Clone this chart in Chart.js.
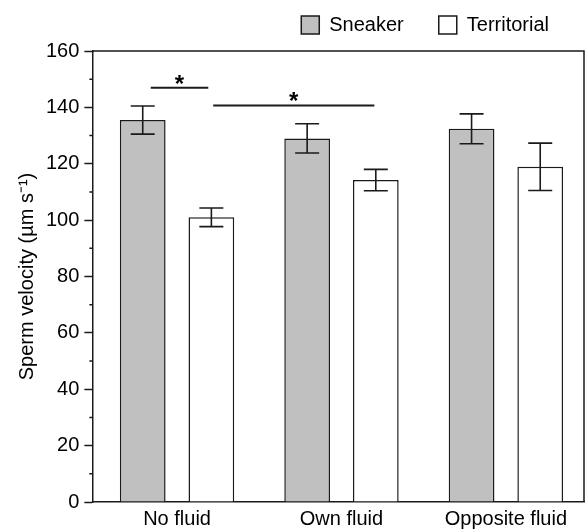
<!DOCTYPE html>
<html>
<head>
<meta charset="utf-8">
<script src="https://cdn.jsdelivr.net/npm/chart.js@4/dist/chart.umd.min.js"></script>
<style>
html, body { margin: 0; padding: 0; background: #fff; }
#wrap { width: 585px; height: 529px; }
</style>
</head>
<body>
<div id="wrap"><canvas id="barChart"></canvas></div>
<script>
var categories = ["No fluid", "Own fluid", "Opposite fluid"];
var sneaker = [135.5, 129, 132.4];
var sneakerErr = [5, 5.2, 5.3];
var territorial = [101, 114.2, 118.9];
var territorialErr = [3.3, 3.8, 8.4];
var yTicks = [0, 20, 40, 60, 80, 100, 120, 140, 160];
var yMinorTicks = [10, 30, 50, 70, 90, 110, 130, 150];
// significance bars: [from, to] in category units, height in y units
var sigFrom = [-0.16, 0.22];
var sigTo = [0.19, 1.2];
var sigY = [147, 140.7];

var ink = "#1a1a1a";
var font = { family: "'Liberation Sans', Arial, sans-serif", size: 20 };

function points(vals) {
  return vals.map(function (v, i) { return { x: i, y: v }; });
}

// a bit more room under the legend
var legendGap = {
  id: "legendGap",
  beforeInit: function (chart) {
    var fit = chart.legend.fit;
    chart.legend.fit = function () {
      fit.bind(chart.legend)();
      this.height += 6;
    };
  }
};

var errorBars = {
  id: "errorBars",
  afterDatasetsDraw: function (chart) {
    var ctx = chart.ctx;
    var y = chart.scales.y;
    var vals = [sneaker, territorial];
    var errs = [sneakerErr, territorialErr];
    ctx.save();
    ctx.strokeStyle = ink;
    ctx.lineWidth = 1.6;
    chart.data.datasets.forEach(function (ds, i) {
      chart.getDatasetMeta(i).data.forEach(function (bar, j) {
        var top = y.getPixelForValue(vals[i][j] + errs[i][j]);
        var bot = y.getPixelForValue(vals[i][j] - errs[i][j]);
        ctx.beginPath();
        ctx.moveTo(bar.x, top); ctx.lineTo(bar.x, bot);
        ctx.moveTo(bar.x - 12, top); ctx.lineTo(bar.x + 12, top);
        ctx.moveTo(bar.x - 12, bot); ctx.lineTo(bar.x + 12, bot);
        ctx.stroke();
      });
    });
    ctx.restore();
  }
};

var extras = {
  id: "extras",
  afterDraw: function (chart) {
    var ctx = chart.ctx;
    var a = chart.chartArea;
    var x = chart.scales.x, y = chart.scales.y;
    ctx.save();
    ctx.strokeStyle = ink;
    ctx.lineWidth = 1.5;
    // box top and right
    ctx.beginPath();
    ctx.moveTo(a.left, a.top); ctx.lineTo(a.right, a.top); ctx.lineTo(a.right, a.bottom);
    ctx.stroke();
    // minor ticks
    ctx.beginPath();
    yMinorTicks.forEach(function (v) {
      var py = y.getPixelForValue(v);
      ctx.moveTo(a.left - 3, py); ctx.lineTo(a.left, py);
    });
    ctx.stroke();
    // significance lines
    ctx.lineWidth = 2;
    ctx.fillStyle = "#000";
    ctx.font = "bold 24px 'Liberation Sans', Arial, sans-serif";
    ctx.textAlign = "center";
    ctx.textBaseline = "alphabetic";
    for (var i = 0; i < sigY.length; i++) {
      var x1 = x.getPixelForValue(sigFrom[i]);
      var x2 = x.getPixelForValue(sigTo[i]);
      var py = y.getPixelForValue(sigY[i]);
      ctx.beginPath();
      ctx.moveTo(x1, py); ctx.lineTo(x2, py);
      ctx.stroke();
      ctx.fillText("*", (x1 + x2) / 2, py + 4);
    }
    ctx.restore();
  }
};

var ctxB = document.getElementById("barChart").getContext("2d");
var myBarChart = new Chart(ctxB, {
  type: "bar",
  data: {
    datasets: [{
      label: "Sneaker",
      data: points(sneaker),
      backgroundColor: "#c0c0c0",
      borderColor: ink,
      borderWidth: 1.5
    }, {
      label: "Territorial",
      data: points(territorial),
      backgroundColor: "#ffffff",
      borderColor: ink,
      borderWidth: 1.5
    }]
  },
  options: {
    responsive: true,
    maintainAspectRatio: false,
    animation: false,
    categoryPercentage: 0.835,
    barPercentage: 0.666,
    layout: { padding: { top: -20, right: 1, bottom: -7, left: 15 } },
    plugins: {
      tooltip: { enabled: false },
      legend: {
        position: "top",
        align: "end",
        labels: {
          boxWidth: 18,
          boxHeight: 18,
          padding: 35,
          color: "#000",
          font: font
        }
      }
    },
    scales: {
      x: {
        type: "linear",
        offset: false,
        bounds: "ticks",
        min: -0.515,
        max: 2.475,
        afterBuildTicks: function (s) { s.ticks = categories.map(function (c, i) { return { value: i }; }); },
        grid: { display: false, drawTicks: false, offset: false },
        border: { color: ink, width: 1.5 },
        ticks: {
          color: "#000",
          padding: 5,
          maxRotation: 0,
          autoSkip: false,
          font: font,
          callback: function (v) { return categories[v]; }
        }
      },
      y: {
        min: 0,
        max: 160,
        afterBuildTicks: function (s) { s.ticks = yTicks.map(function (v) { return { value: v }; }); },
        grid: { drawOnChartArea: false, tickLength: 8, tickColor: ink, tickWidth: 1.5 },
        border: { color: ink, width: 1.5 },
        ticks: {
          color: "#000",
          padding: 5,
          font: font
        },
        title: {
          display: true,
          text: "Sperm velocity (\u00b5m s\u207b\u00b9)",
          color: "#000",
          padding: { top: 0, bottom: 2 },
          font: font
        }
      }
    }
  },
  plugins: [legendGap, errorBars, extras]
});
</script>
</body>
</html>
